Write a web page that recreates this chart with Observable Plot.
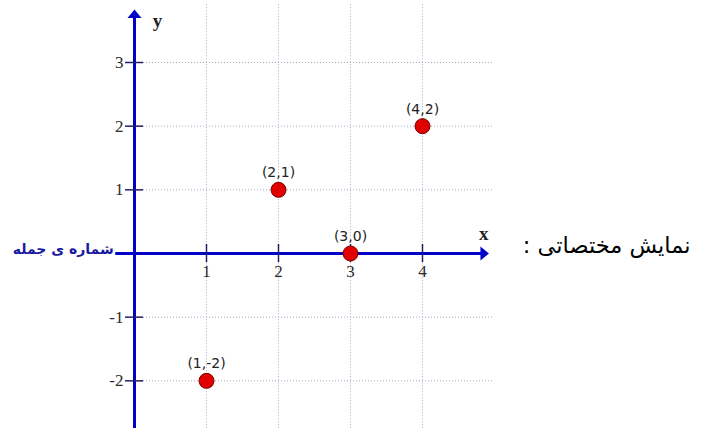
<!DOCTYPE html>
<html>
<head>
<meta charset="utf-8">
<script src="https://cdn.jsdelivr.net/npm/d3@7"></script>
<script src="https://cdn.jsdelivr.net/npm/@observablehq/plot@0.6"></script>
<style>
  html, body { margin: 0; padding: 0; background: #fff; }
  #chart svg { display: block; }
</style>
</head>
<body>
<div id="chart"></div>
<script>
// ---- data ----
const xTicks = [1, 2, 3, 4];
const yTicks = [3, 2, 1, -1, -2];
const pointX = [1, 2, 3, 4];
const pointY = [-2, 1, 0, 2];
const pointLabels = ["(1,-2)", "(2,1)", "(3,0)", "(4,2)"];
const xAxisExtent = [-0.26, 4.86];
const yAxisExtent = [-2.8, 3.76];
const gridXExtent = [-2.8, 3.92];
const gridYExtent = [0, 4.97];
const axisNames = [{name: "x", x: 4.85, y: 0.31}, {name: "y", x: 0.32, y: 3.65}];
const xAxisTitle = "شماره ی جمله";
const caption = "نمایش مختصاتی :\u200F";

const points = pointX.map((x, i) => ({x, y: pointY[i], label: pointLabels[i]}));

const arrowHead = {
  draw(context) {
    context.moveTo(0, -4.5);
    context.lineTo(7, 4);
    context.lineTo(-7, 4);
    context.closePath();
  }
};

const blue = "#0000c8";
const grid = "#a8a8c4";

const chart = Plot.plot({
  width: 701,
  height: 428,
  margin: 0,
  x: {domain: [0, 4], range: [134, 422], axis: null},
  y: {domain: [0, 3], range: [253, 62], axis: null},
  marks: [
    // grid
    Plot.ruleX(xTicks, {x: d => d, y1: gridXExtent[0], y2: gridXExtent[1], stroke: grid, strokeDasharray: "1,2", strokeWidth: 1}),
    Plot.ruleY(yTicks, {y: d => d, x1: gridYExtent[0], x2: gridYExtent[1], stroke: grid, strokeDasharray: "1,2", strokeWidth: 1}),
    // axes
    Plot.ruleY([0], {x1: xAxisExtent[0], x2: xAxisExtent[1], stroke: blue, strokeWidth: 3}),
    Plot.ruleX([0], {y1: yAxisExtent[0], y2: yAxisExtent[1], stroke: blue, strokeWidth: 3}),
    Plot.dot([{x: 0, y: yAxisExtent[1]}], {x: "x", y: "y", symbol: arrowHead, fill: blue, stroke: "none", r: 5}),
    Plot.dot([{x: xAxisExtent[1], y: 0}], {x: "x", y: "y", symbol: arrowHead, fill: blue, stroke: "none", r: 5, rotate: 90}),
    // ticks
    Plot.ruleY(yTicks, {y: d => d, x1: 0, x2: 0, insetLeft: -9, insetRight: -9, stroke: "#20206a", strokeWidth: 1.5}),
    Plot.ruleX(xTicks, {x: d => d, y1: 0, y2: 0, insetTop: -9, insetBottom: -9, stroke: "#20206a", strokeWidth: 1.5}),
    // tick labels
    Plot.text(yTicks, {x: 0, y: d => d, text: d => String(d), textAnchor: "end", dx: -11, fontFamily: "Liberation Serif", fontSize: 17, fill: "#2a2a2a"}),
    Plot.text(xTicks, {x: d => d, y: 0, text: d => String(d), dy: 18, fontFamily: "Liberation Serif", fontSize: 17, fill: "#2a2a2a"}),
    // axis names
    Plot.text(axisNames, {x: "x", y: "y", text: "name", fontFamily: "Liberation Serif", fontWeight: "bold", fontSize: 19, fill: "#222"}),
    // x-axis title (left)
    Plot.text([xAxisTitle], {x: xAxisExtent[0], y: () => 0, text: d => d, textAnchor: "end", dx: -2, dy: -4, fontFamily: "DejaVu Sans", fontWeight: "bold", fontSize: 14, fill: "#1a1aa0"}),
    // points
    Plot.dot(points, {x: "x", y: "y", r: 7.5, fill: "#e00000", stroke: "#780000", strokeWidth: 1}),
    Plot.text(points, {x: "x", y: "y", text: "label", dy: -17, fontFamily: "DejaVu Sans", fontSize: 14, fill: "#222"}),
    // caption (right)
    Plot.text([caption], {frameAnchor: "right", y: () => 0, text: d => d, textAnchor: "end", dx: -11, dy: -8, fontFamily: "DejaVu Sans", fontSize: 22.5, fill: "#000"})
  ]
});

document.getElementById("chart").appendChild(chart);
</script>
</body>
</html>
